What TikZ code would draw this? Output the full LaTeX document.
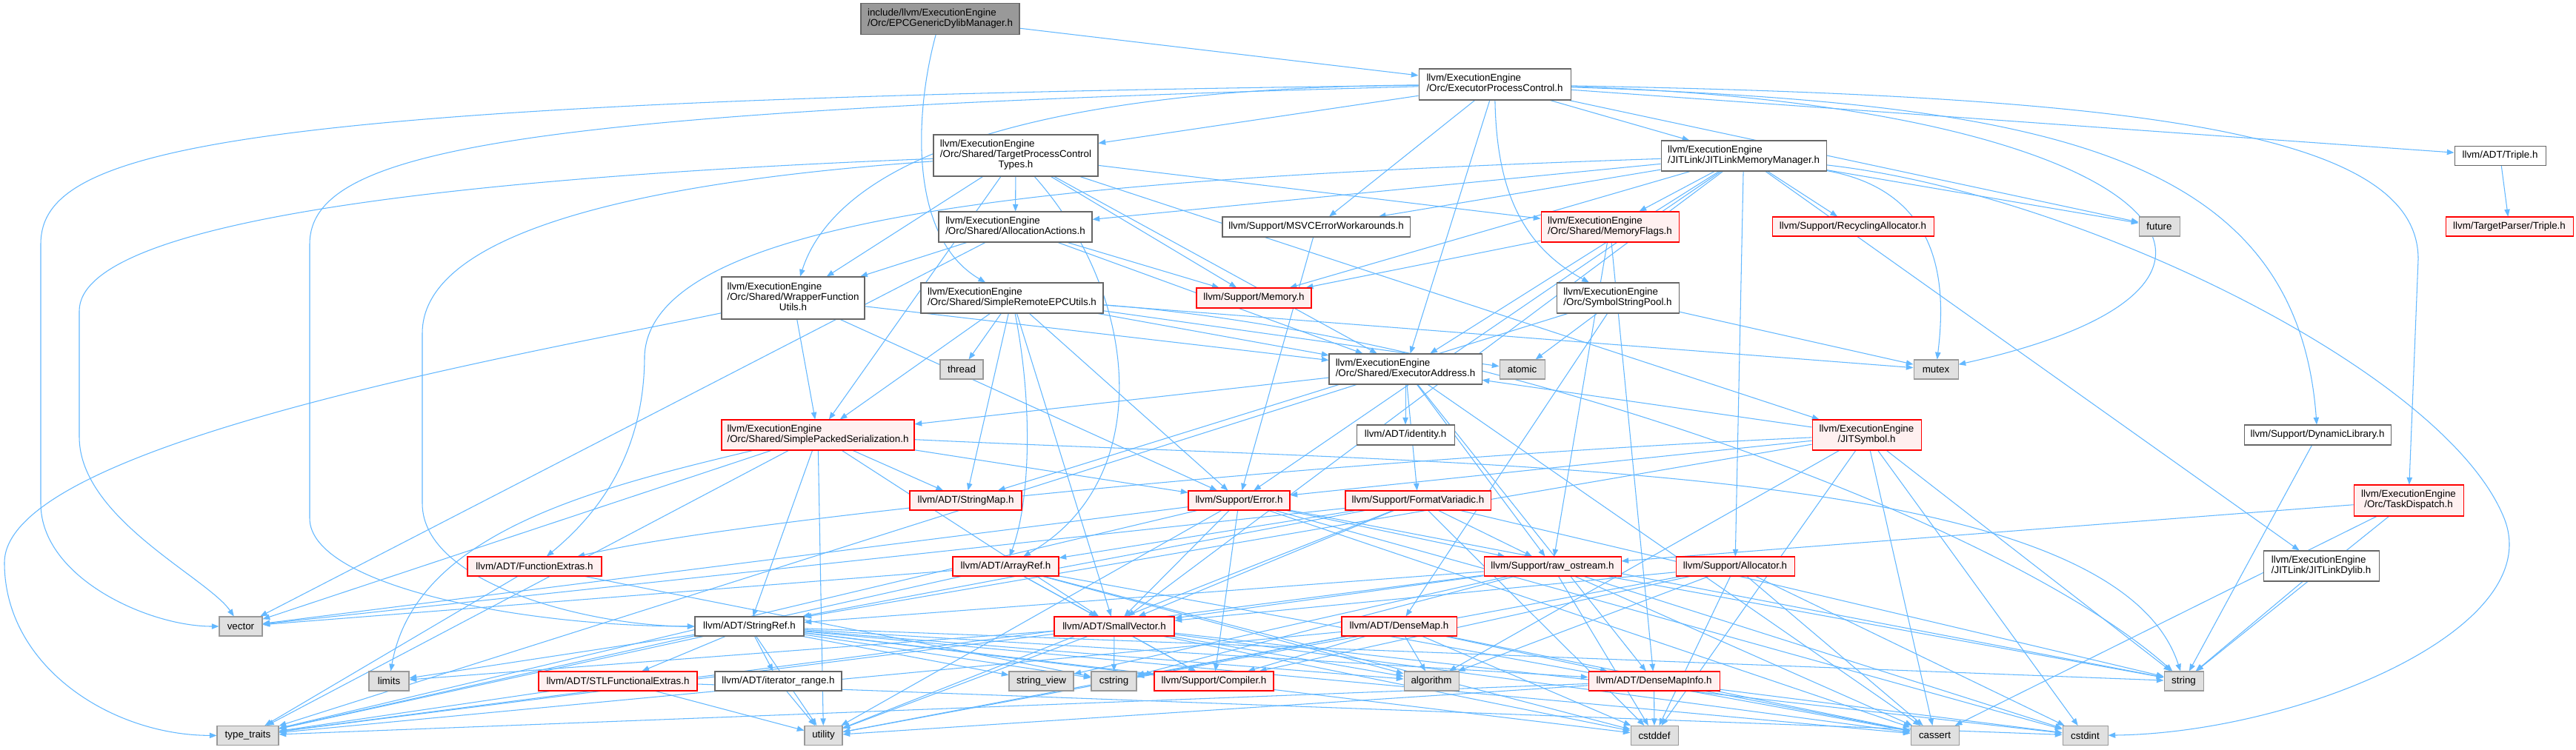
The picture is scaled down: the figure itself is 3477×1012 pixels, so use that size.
\documentclass[tikz,border=0pt]{standalone}
\usepackage{fontspec}
\setmainfont{Liberation Sans}
\usepackage{xcolor}
\usepackage{tikz}
\usetikzlibrary{arrows.meta}
\pgfdeclarelayer{paper}
\pgfdeclarelayer{edges}
\pgfsetlayers{paper,edges,main}
\definecolor{edgeblue}{HTML}{63B8FF}
\definecolor{grey40}{HTML}{666666}
\definecolor{sysline}{HTML}{999999}
\definecolor{sysfill}{HTML}{E0E0E0}
\definecolor{truncfill}{HTML}{FFF0F0}
\definecolor{rootfill}{HTML}{999999}
\newcommand{\hdrfont}{\fontsize{7.6}{8}\selectfont}
\newcommand{\twoln}[2]{\begin{tabular}{@{}l@{}}#1\\\multicolumn{1}{@{}c@{}}{#2}\end{tabular}}
\newcommand{\threeln}[3]{\begin{tabular}{@{}l@{}}#1\\#2\\\multicolumn{1}{@{}c@{}}{#3}\end{tabular}}
\tikzset{
	hbox/.style={draw=grey40, fill=white, line width=0.6pt, inner sep=0pt, font=\hdrfont},
	sysbox/.style={hbox, draw=sysline, fill=sysfill},
	trunc/.style={hbox, draw=red, fill=truncfill},
	rootbox/.style={hbox, draw=grey40, fill=rootfill},
	dep/.style={draw=edgeblue, line width=0.6pt, -{Triangle[length=5.5pt,width=4.2pt]}},
	sz/.style 2 args={minimum width=#1*0.02cm, minimum height=#2*0.02cm}
}

\begin{document}
\begin{tikzpicture}[x=0.02cm, y=-0.02cm]
	\begin{pgfonlayer}{paper}
	\path[use as bounding box, fill=white] (0,0) rectangle (3477,1012);
	\end{pgfonlayer}
	
	%% -- top rows
	\node[rootbox, sz={214}{42}] (root) at (1269,25.5) {\twoln{include/llvm/ExecutionEngine}{/Orc/EPCGenericDylibManager.h}};
	\node[hbox, sz={205}{42}] (epc) at (2017.5,114) {\twoln{llvm/ExecutionEngine}{/Orc/ExecutorProcessControl.h}};
	\node[hbox, sz={222}{56}] (tpct) at (1371,210) {\threeln{llvm/ExecutionEngine}{/Orc/Shared/TargetProcessControl}{Types.h}};
	\node[hbox, sz={223}{41}] (jlmm) at (2353.5,210.5) {\twoln{llvm/ExecutionEngine}{/JITLink/JITLinkMemoryManager.h}};
	\node[hbox, sz={123}{26}] (adttriple) at (3374.5,210.5) {llvm/ADT/Triple.h};
	\node[trunc, sz={172}{26}] (tptriple) at (3387,306) {llvm/TargetParser/Triple.h};
	\node[hbox, sz={207}{41}] (allocact) at (1370.5,306.5) {\twoln{llvm/ExecutionEngine}{/Orc/Shared/AllocationActions.h}};
	\node[hbox, sz={253}{27}] (msvc) at (1776.5,306.5) {llvm/Support/MSVCErrorWorkarounds.h};
	\node[trunc, sz={186}{41}] (memflags) at (2173,306.5) {\twoln{llvm/ExecutionEngine}{/Orc/Shared/MemoryFlags.h}};
	\node[trunc, sz={218}{26}] (recyc) at (2501,306) {llvm/Support/RecyclingAllocator.h};
	\node[sysbox, sz={55}{26}] (future) at (2914.5,306) {future};
	\node[hbox, sz={193}{57}] (wfu) at (1070.5,402.5) {\threeln{llvm/ExecutionEngine}{/Orc/Shared/WrapperFunction}{Utils.h}};
	\node[hbox, sz={246}{41}] (srepcu) at (1366,402.5) {\twoln{llvm/ExecutionEngine}{/Orc/Shared/SimpleRemoteEPCUtils.h}};
	\node[trunc, sz={155}{27}] (memory) at (1692.5,402.5) {llvm/Support/Memory.h};
	\node[hbox, sz={165}{41}] (ssp) at (2183.5,402.5) {\twoln{llvm/ExecutionEngine}{/Orc/SymbolStringPool.h}};
	\node[sysbox, sz={58}{26}] (thread) at (1298,499) {thread};
	\node[hbox, sz={206}{41}] (execaddr) at (1897,498.5) {\twoln{llvm/ExecutionEngine}{/Orc/Shared/ExecutorAddress.h}};
	\node[sysbox, sz={61}{26}] (atomic) at (2054.5,499) {atomic};
	\node[sysbox, sz={60}{26}] (mutex) at (2613,499) {mutex};
	
	%% -- middle rows
	\node[trunc, sz={260}{41}] (sps) at (1104,587.5) {\twoln{llvm/ExecutionEngine}{/Orc/Shared/SimplePackedSerialization.h}};
	\node[hbox, sz={132}{27}] (identity) at (1897,587.5) {llvm/ADT/identity.h};
	\node[trunc, sz={147}{41}] (jitsym) at (2519.5,587.5) {\twoln{llvm/ExecutionEngine}{/JITSymbol.h}};
	\node[hbox, sz={198}{27}] (dynlib) at (3128,587.5) {llvm/Support/DynamicLibrary.h};
	\node[trunc, sz={151}{26}] (stringmap) at (1303.5,676) {llvm/ADT/StringMap.h};
	\node[trunc, sz={137}{26}] (error) at (1672.5,676) {llvm/Support/Error.h};
	\node[trunc, sz={196}{26}] (formatvar) at (1914,676) {llvm/Support/FormatVariadic.h};
	\node[trunc, sz={148}{42}] (taskdisp) at (3251,676) {\twoln{llvm/ExecutionEngine}{/Orc/TaskDispatch.h}};
	\node[trunc, sz={181}{26}] (funcext) at (721.5,765) {llvm/ADT/FunctionExtras.h};
	\node[trunc, sz={143}{26}] (arrayref) at (1357.5,765) {llvm/ADT/ArrayRef.h};
	\node[trunc, sz={185}{26}] (raw) at (2095.5,765) {llvm/Support/raw\_ostream.h};
	\node[trunc, sz={160}{26}] (allocator) at (2342,765) {llvm/Support/Allocator.h};
	\node[hbox, sz={156}{41}] (jldylib) at (3133,764.5) {\twoln{llvm/ExecutionEngine}{/JITLink/JITLinkDylib.h}};
	
	%% -- bottom rows
	\node[sysbox, sz={58}{26}] (vector) at (325,846) {vector};
	\node[hbox, sz={147}{26}] (stringref) at (1011.5,846) {llvm/ADT/StringRef.h};
	\node[trunc, sz={162}{26}] (smallvec) at (1504,846) {llvm/ADT/SmallVector.h};
	\node[trunc, sz={155}{26}] (densemap) at (1888.5,846) {llvm/ADT/DenseMap.h};
	\node[sysbox, sz={54}{26}] (limits) at (525,920) {limits};
	\node[trunc, sz={214}{26}] (stlfunc) at (834,920) {llvm/ADT/STLFunctionalExtras.h};
	\node[hbox, sz={171}{26}] (iterrange) at (1050.5,920) {llvm/ADT/iterator\_range.h};
	\node[sysbox, sz={87}{26}] (stringview) at (1405.5,920) {string\_view};
	\node[sysbox, sz={61}{26}] (cstring) at (1503.5,920) {cstring};
	\node[trunc, sz={161}{26}] (compiler) at (1638.5,920) {llvm/Support/Compiler.h};
	\node[sysbox, sz={74}{26}] (algorithm) at (1932,920) {algorithm};
	\node[trunc, sz={177}{26}] (densemapinfo) at (2232.5,920) {llvm/ADT/DenseMapInfo.h};
	\node[sysbox, sz={53}{26}] (string) at (2947.5,920) {string};
	\node[sysbox, sz={83}{26}] (typetraits) at (334.5,993.5) {type\_traits};
	\node[sysbox, sz={51}{26}] (utility) at (1111.5,993.5) {utility};
	\node[sysbox, sz={64}{26}] (cstddef) at (2233,993.5) {cstddef};
	\node[sysbox, sz={65}{26}] (cassert) at (2611.5,993.5) {cassert};
	\node[sysbox, sz={61}{26}] (cstdint) at (2814.5,993.5) {cstdint};
	
	%% -- includes, grouped by the including header (drawn under the boxes)
	\begin{pgfonlayer}{edges}
	\draw[dep] (root) -- (epc);
	\draw[dep] (root) .. controls (1235,150) and (1225,320) .. (srepcu);
	\foreach \t in {tpct,jlmm,msvc,execaddr,future,adttriple}
		\draw[dep] (epc) -- (\t);
	\draw[dep] (epc) .. controls (2020,250) and (2050,330) .. (ssp);
	\draw[dep] (epc) .. controls (1300,120) and (1120,250) .. (wfu);
	\draw[dep] (epc) .. controls (2900,140) and (3150,380) .. (mutex);
	\draw[dep] (epc) .. controls (2750,140) and (3100,200) .. (dynlib);
	\draw[dep] (epc) .. controls (2900,130) and (3264,180) .. (3264,350) -- (taskdisp);
	\draw[dep] (epc) .. controls (300,135) and (55,200) .. (55,330) -- (55,680) .. controls (55,780) and (200,846) .. (vector);
	\draw[dep] (epc) .. controls (700,150) and (418,200) .. (418,330) -- (418,700) .. controls (418,790) and (700,846) .. (stringref);
	\foreach \t in {jitsym,allocact,execaddr,memflags,sps,wfu,memory}
		\draw[dep] (tpct) -- (\t);
	\draw[dep] (tpct) .. controls (1540,400) and (1560,650) .. (arrayref);
	\draw[dep] (tpct) .. controls (600,240) and (107,300) .. (107,420) -- (107,590) .. controls (107,700) and (280,780) .. (vector);
	\draw[dep] (tpct) .. controls (800,250) and (570,330) .. (570,450) -- (570,680) .. controls (570,790) and (800,846) .. (stringref);
	\foreach \t in {smallvec,jldylib,allocact,execaddr,memflags,allocator,error,msvc,memory,recyc,future}
		\draw[dep] (jlmm) -- (\t);
	\draw[dep] (jlmm) .. controls (1500,240) and (880,280) .. (870,480) .. controls (870,620) and (800,700) .. (funcext);
	\draw[dep] (jlmm) .. controls (2630,260) and (2625,400) .. (mutex);
	\draw[dep] (jlmm) .. controls (2800,260) and (3300,500) .. (3380,700) .. controls (3440,850) and (3100,990) .. (cstdint);
	\foreach \t in {execaddr,wfu,memory,vector}
		\draw[dep] (allocact) -- (\t);
	\foreach \t in {densemapinfo,memory,raw}
		\draw[dep] (memflags) -- (\t);
	\foreach \t in {execaddr,sps,error}
		\draw[dep] (wfu) -- (\t);
	\draw[dep] (wfu) .. controls (700,480) and (6,600) .. (6,760) .. controls (6,900) and (150,993) .. (typetraits);
	\foreach \t in {smallvec,stringmap,execaddr,sps,error,atomic,mutex,thread}
		\draw[dep] (srepcu) -- (\t);
	\draw[dep] (srepcu) .. controls (1395,550) and (1390,680) .. (arrayref);
	\draw[dep] (srepcu) .. controls (2000,450) and (2700,700) .. (string);
	\foreach \t in {densemap,stringmap,atomic,mutex}
		\draw[dep] (ssp) -- (\t);
	\foreach \t in {densemapinfo,identity,sps,formatvar,raw,cassert,typetraits}
		\draw[dep] (execaddr) -- (\t);
	\foreach \t in {smallvec,stringmap,stringref,error,typetraits,utility,vector}
		\draw[dep] (sps) -- (\t);
	\draw[dep] (sps) .. controls (800,660) and (560,720) .. (limits);
	\draw[dep] (sps) .. controls (2000,630) and (2850,620) .. (string);
	\foreach \t in {algorithm,cassert,cstddef,cstdint,string,stringref,execaddr,error}
		\draw[dep] (jitsym) -- (\t);
	\draw[dep] (jitsym) .. controls (1800,620) and (1000,700) .. (funcext);
	\draw[dep] (dynlib) -- (string);
	\foreach \t in {raw,string,cassert}
		\draw[dep] (taskdisp) -- (\t);
	\foreach \t in {smallvec,compiler,algorithm,cassert,cstddef,cstdint,utility}
		\draw[dep] (allocator) -- (\t);
	\draw[dep] (jldylib) -- (string);
	\draw[dep] (msvc) -- (error);
	\draw[dep] (adttriple) -- (tptriple);
	\foreach \t in {smallvec,compiler,raw,cassert,cstdint,string,typetraits,utility,vector}
		\draw[dep] (error) -- (\t);
	\foreach \t in {arrayref,smallvec,stringref,raw,cstddef,string,utility,vector}
		\draw[dep] (formatvar) -- (\t);
	\foreach \t in {smallvec,stringref,cassert,cstddef,cstdint,cstring,string,stringview,typetraits}
		\draw[dep] (raw) -- (\t);
	\foreach \t in {cstring,typetraits}
		\draw[dep] (funcext) -- (\t);
	\foreach \t in {smallvec,compiler,algorithm,cassert,cstddef,typetraits,vector}
		\draw[dep] (arrayref) -- (\t);
	\foreach \t in {densemapinfo,stlfunc,iterrange,compiler,algorithm,cassert,cstddef,cstring,limits,string,stringview,typetraits,utility}
		\draw[dep] (stringref) -- (\t);
	\foreach \t in {compiler,algorithm,cassert,cstddef,cstdint,cstring,limits,typetraits,utility}
		\draw[dep] (smallvec) -- (\t);
	\foreach \t in {densemapinfo,compiler,algorithm,cassert,cstddef,cstring,typetraits,utility}
		\draw[dep] (densemap) -- (\t);
	\foreach \t in {cstdint,typetraits,utility}
		\draw[dep] (stlfunc) -- (\t);
	\draw[dep] (iterrange) -- (utility);
	\foreach \t in {cassert,cstddef,cstdint,typetraits,utility}
		\draw[dep] (densemapinfo) -- (\t);
	\end{pgfonlayer}
	
\end{tikzpicture}
\end{document}
